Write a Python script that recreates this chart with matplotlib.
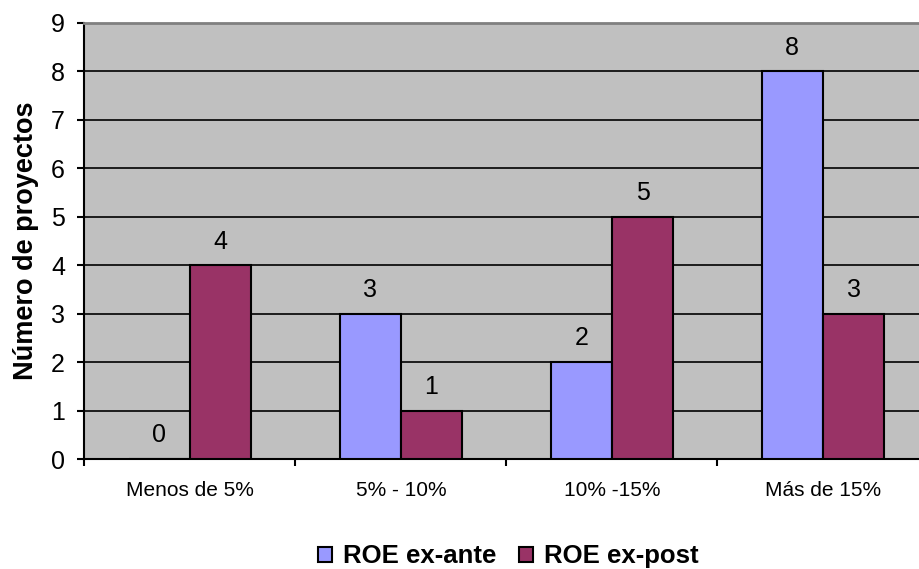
import numpy as np
import matplotlib.pyplot as plt

plt.rcParams['font.family'] = ['Liberation Sans', 'DejaVu Sans']

categories = ['Menos de 5%', '5% - 10%', '10% -15%', 'Más de 15%']
ex_ante = [0, 3, 2, 8]
ex_post = [4, 1, 5, 3]

fig = plt.figure(figsize=(9.19, 5.69), dpi=100)
ax = fig.add_axes([0.0919, 0.1933, 0.9184, 0.7663])
ax.set_facecolor('#C0C0C0')

x = np.arange(len(categories))
w = 0.29
b1 = ax.bar(x - w/2, ex_ante, w, color='#9999FF', edgecolor='black', linewidth=1.5,
            label='ROE ex-ante', zorder=3)
b2 = ax.bar(x + w/2, ex_post, w, color='#993366', edgecolor='black', linewidth=1.5,
            label='ROE ex-post', zorder=3)

# value labels
for bars, vals in [(b1, ex_ante), (b2, ex_post)]:
    for r, v in zip(bars, vals):
        ax.annotate(str(v), (r.get_x() + r.get_width()/2, v), xytext=(0, 12),
                    textcoords='offset points', ha='center', va='baseline', fontsize=18)

ax.set_xlim(-0.5, 3.5)
ax.set_ylim(0, 9)
ax.set_yticks(range(10))
ax.yaxis.grid(True, color='black', linewidth=1.2, zorder=0)
ax.set_axisbelow(True)

# category labels centered, ticks on boundaries
ax.set_xticks(x)
ax.set_xticklabels(categories, fontsize=15)
ax.tick_params(axis='x', length=0, pad=16)
ax.set_xticks(np.arange(-0.5, 4.0, 1.0), minor=True)
ax.tick_params(axis='x', which='minor', length=5, width=1.5, direction='out')
ax.tick_params(axis='y', length=5, width=1.5, direction='out', labelsize=18, pad=9)

ax.spines['top'].set_color('#808080')
ax.spines['top'].set_linewidth(2)
ax.spines['right'].set_visible(False)
ax.spines['left'].set_linewidth(1.5)
ax.spines['bottom'].set_linewidth(1.5)

ax.set_ylabel('Número de proyectos', fontsize=19.5, fontweight='bold', labelpad=9)

fig.legend(handles=[b1, b2], loc='center', bbox_to_anchor=(0.553, 0.022), ncol=2,
           frameon=False, prop={'weight': 'bold', 'size': 18.5},
           handlelength=0.55, handleheight=0.55, handletextpad=0.4, columnspacing=0.9,
           borderpad=0.1)

fig.savefig('out.png', dpi=100)
